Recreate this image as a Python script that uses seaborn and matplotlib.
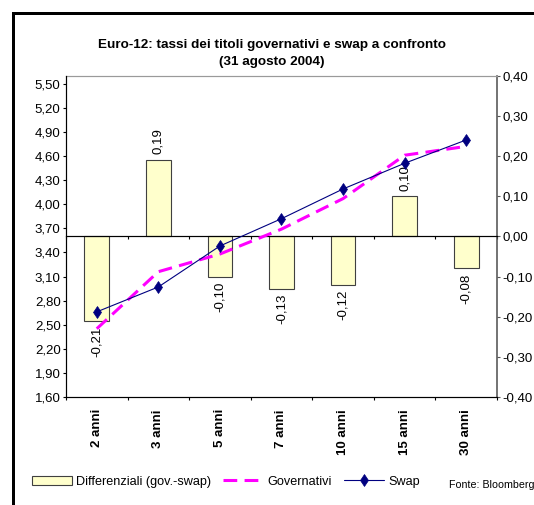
import numpy as np
import pandas as pd
import matplotlib
matplotlib.use("Agg")
import matplotlib.pyplot as plt
from matplotlib.ticker import FixedLocator, FuncFormatter
from matplotlib.lines import Line2D
import seaborn as sns

# Scadenze e tassi (31 agosto 2004)
categories = ["2 anni", "3 anni", "5 anni", "7 anni", "10 anni", "15 anni", "30 anni"]
differenziali = [-0.21, 0.19, -0.10, -0.13, -0.12, 0.10, -0.08]
governativi = [2.45, 3.16, 3.38, 3.69, 4.07, 4.61, 4.72]
swap = [2.66, 2.97, 3.48, 3.82, 4.19, 4.51, 4.80]

left_ticks = [1.60, 1.90, 2.20, 2.50, 2.80, 3.10, 3.40, 3.70, 4.00,
              4.30, 4.60, 4.90, 5.20, 5.50]
right_ticks = [-0.40, -0.30, -0.20, -0.10, 0.00, 0.10, 0.20, 0.30, 0.40]

W, H = 534, 505
PX = 72 / 100  # points per pixel at 100 dpi

sns.set_theme(style="white", rc={
    "text.color": "black", "axes.labelcolor": "black",
    "xtick.color": "black", "ytick.color": "black",
    "axes.edgecolor": "black",
})
plt.rcParams["font.family"] = ["Liberation Sans", "DejaVu Sans"]

df = pd.DataFrame({
    "scadenza": categories,
    "differenziale": differenziali,
    "governativi": governativi,
    "swap": swap,
})


def comma(v, _pos=None):
    return f"{v:.2f}".replace(".", ",")


fig = plt.figure(figsize=(W / 100, H / 100), dpi=100)
ax_bar = fig.add_axes([66 / W, 1 - 397 / H, (497 - 66) / W, (397 - 75.7) / H])
ax_line = ax_bar.twinx()

# Differentials as bars on the right-hand scale
sns.barplot(data=df, x="scadenza", y="differenziale", order=categories,
            color="#FFFFCC", saturation=1, width=0.4, errorbar=None,
            edgecolor="#404040", linewidth=0.8, ax=ax_bar)
ax_bar.bar_label(ax_bar.containers[0], labels=[comma(v) for v in differenziali],
                 rotation=90, padding=4, fontsize=9.5)

# Yield curves on the left-hand scale
sns.pointplot(data=df, x="scadenza", y="governativi", order=categories,
              color="#FF00FF", errorbar=None, marker="", linestyle="--",
              dashes=(4.5, 2.4), linewidth=2.2, ax=ax_line)
sns.pointplot(data=df, x="scadenza", y="swap", order=categories,
              color="#000080", errorbar=None, marker="d", markersize=6.5,
              markeredgewidth=0.5, linewidth=0.8, ax=ax_line)

# Scales
ax_bar.set_ylim(-0.40, 0.40)
ax_line.set_ylim(1.60, 5.60)
ax_bar.set_xlim(-0.5, len(categories) - 0.5)
ax_bar.set_ylabel("")
ax_line.set_ylabel("")
ax_bar.set_xlabel("")
ax_line.set_xlabel("")

ax_bar.yaxis.tick_right()
ax_line.yaxis.tick_left()
ax_bar.set_yticks(right_ticks)
ax_line.set_yticks(left_ticks)
ax_bar.yaxis.set_major_formatter(FuncFormatter(comma))
ax_line.yaxis.set_major_formatter(FuncFormatter(comma))

ax_line.xaxis.set_visible(True)
ax_line.set_xticks(range(len(categories)), labels=categories,
                   rotation=90, fontweight="bold", fontsize=9.5)
ax_line.xaxis.set_minor_locator(FixedLocator(np.arange(len(categories) + 1) - 0.5))

# Spines
for s in ("top", "right"):
    ax_line.spines[s].set_visible(False)
ax_line.spines["left"].set_linewidth(1.2 * PX)
ax_line.spines["bottom"].set_linewidth(1.2 * PX)
ax_bar.spines["left"].set_visible(False)
ax_bar.spines["top"].set_color("#9a9a9a")
ax_bar.spines["top"].set_linewidth(1.2 * PX)
ax_bar.spines["right"].set_color("#555555")
ax_bar.spines["right"].set_linewidth(1.6 * PX)
ax_bar.spines["bottom"].set_position(("data", 0))
ax_bar.spines["bottom"].set_linewidth(1.2 * PX)

# Ticks
tick = 3 * PX
ax_line.tick_params(axis="y", which="major", left=True, right=False, direction="out",
                    length=tick, width=0.8, labelsize=9.5, pad=1.7)
ax_bar.tick_params(axis="y", which="major", right=True, left=False, direction="out",
                   length=tick, width=0.8, color="#555555", labelsize=9.5, pad=2)
ax_line.tick_params(axis="x", which="major", bottom=True, length=0, pad=12 * PX)
ax_line.tick_params(axis="x", which="minor", bottom=True, direction="out",
                    length=tick, width=0.8)
ax_bar.tick_params(axis="x", which="both", labelbottom=False)
ax_bar.tick_params(axis="x", which="major", bottom=True, length=0)
ax_bar.tick_params(axis="x", which="minor", bottom=True, direction="out",
                   length=tick, width=0.8)
ax_bar.grid(False)
ax_line.grid(False)

# Title
fig.text(272 / W, 1 - 45 / H, "Euro-12: tassi dei titoli governativi e swap a confronto",
         ha="center", va="center", fontsize=9.7, fontweight="bold")
fig.text(272 / W, 1 - 62 / H, "(31 agosto 2004)",
         ha="center", va="center", fontsize=9.7, fontweight="bold")

# Legend
handles = [ax_bar.containers[0], ax_line.lines[0], ax_line.lines[1]]
fig.legend(handles, ["Differenziali (gov.-swap)", "Governativi", "Swap"],
           ncol=3, loc="center left", bbox_to_anchor=(32 / W, 1 - 481.7 / H),
           frameon=False, fontsize=9.1, handlelength=3.2, handleheight=0.7,
           handletextpad=0.3, columnspacing=0.95, borderpad=0, borderaxespad=0)

fig.text(449 / W, 1 - 485 / H, "Fonte: Bloomberg", fontsize=7.7,
         ha="left", va="center")

# Frame
fig.add_artist(Line2D([12.5 / W, 12.5 / W, 1.0], [0, 1 - 12.5 / H, 1 - 12.5 / H],
                      transform=fig.transFigure, color="black", lw=3 * PX,
                      solid_joinstyle="miter"))

fig.savefig("out.png", dpi=100, facecolor="white")
